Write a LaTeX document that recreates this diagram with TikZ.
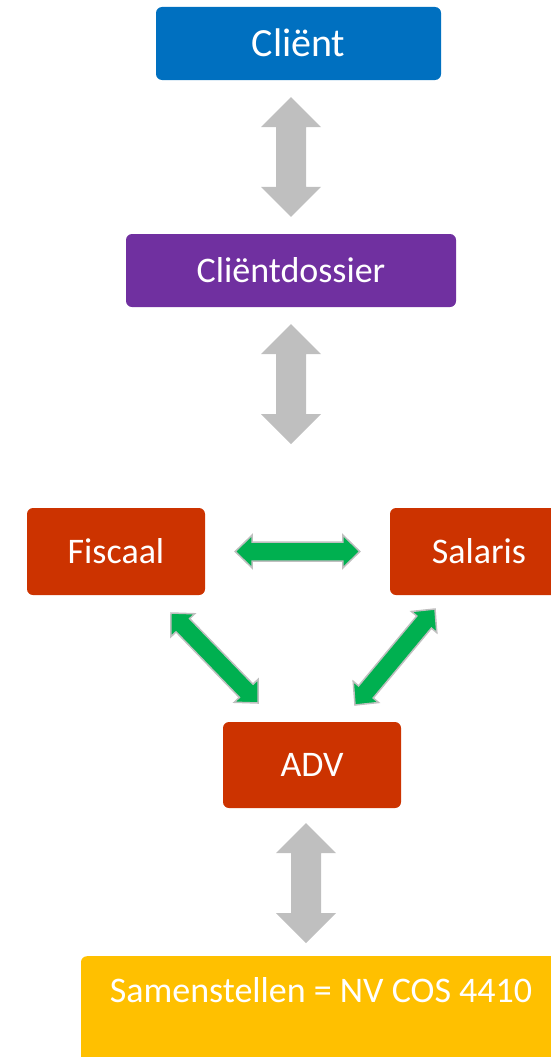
\documentclass[tikz,border=0pt]{standalone}
\usepackage{fontspec}
\setmainfont{Carlito}
\usetikzlibrary{calc}

\definecolor{clientblue}{HTML}{0070C0}
\definecolor{dossierpurple}{HTML}{7030A0}
\definecolor{dienstred}{HTML}{CC3300}
\definecolor{samenyellow}{HTML}{FFC000}
\definecolor{linkgreen}{HTML}{00B050}
\definecolor{linkgrey}{HTML}{BFBFBF}

% double block arrow between two points: style, from, to
\newcommand{\dblarrow}[3]{%
  \coordinate (hA) at ($(#2)!\hl!(#3)$);
  \coordinate (hB) at ($(#3)!\hl!(#2)$);
  \draw[#1] (#2) -- ($(hA)!\hw!90:(#3)$) -- ($(hA)!\sw!90:(#3)$)
     -- ($(hB)!\sw!-90:(#2)$) -- ($(hB)!\hw!-90:(#2)$) -- (#3)
     -- ($(hB)!\hw!90:(#2)$) -- ($(hB)!\sw!90:(#2)$)
     -- ($(hA)!\sw!-90:(#3)$) -- ($(hA)!\hw!-90:(#3)$) -- cycle;
}

\begin{document}
\begin{tikzpicture}[x=1pt, y=-1pt,
    box/.style={rectangle, rounded corners=6pt, inner sep=0pt, text=white,
      font=\fontsize{36}{40}\selectfont, text height=23.2pt, text depth=0pt},
    greyarrow/.style={fill=linkgrey, draw=none},
    greenarrow/.style={fill=linkgreen, draw=linkgrey, line width=1.5pt, line join=miter}]

  \useasboundingbox (0,0) rectangle (551,1057);
  \clip (0,0) rectangle (551,1057);

  %boxes
  \node[box, fill=clientblue, minimum width=285pt, minimum height=73pt,
        font=\fontsize{40}{44}\selectfont, text height=25.8pt] (client) at (298.5,43.5) {Cliënt};
  \node[box, fill=dossierpurple, minimum width=330pt, minimum height=73pt] (dossier) at (291,270.5) {Cliëntdossier};
  \node[box, fill=dienstred, minimum width=178pt, minimum height=87pt] (fiscaal) at (116,551.5) {Fiscaal};
  \node[box, fill=dienstred, minimum width=178pt, minimum height=87pt] (salaris) at (479,551.5) {Salaris};
  \node[box, fill=dienstred, minimum width=178pt, minimum height=86pt] (adv) at (312,765) {ADV};
  \node[box, fill=samenyellow, minimum width=480pt, anchor=north, inner ysep=23pt,
        text depth=80pt] (samen) at (321,956) {Samenstellen = NV COS 4410};

  %arrow ends
  \coordinate (c1) at ($(client.south -| dossier.north)+(0,17)$);
  \coordinate (c2) at ($(dossier.north)+(0,-17)$);
  \coordinate (d1) at ($(dossier.south)+(0,17)$);
  \coordinate (d2) at (291,444);
  \coordinate (a1) at (306,823);
  \coordinate (a2) at (306,943);
  \coordinate (f1) at ($(fiscaal.east)+(30,0)$);
  \coordinate (s1) at ($(salaris.west)+(-30,0)$);
  \coordinate (f2) at (171,613);
  \coordinate (v1) at (258,703);
  \coordinate (s2) at (435,609);
  \coordinate (v2) at (355,705);

  %grey arrows
  \def\hl{30pt} \def\hw{30pt} \def\sw{15pt}
  \foreach \from/\to in {c1/c2, d1/d2, a1/a2}{
    \dblarrow{greyarrow}{\from}{\to}
  }

  %green arrows
  \def\hl{17pt} \def\hw{16.5pt} \def\sw{9.5pt}
  \foreach \from/\to in {f1/s1, f2/v1, s2/v2}{
    \dblarrow{greenarrow}{\from}{\to}
  }

\end{tikzpicture}
\end{document}
